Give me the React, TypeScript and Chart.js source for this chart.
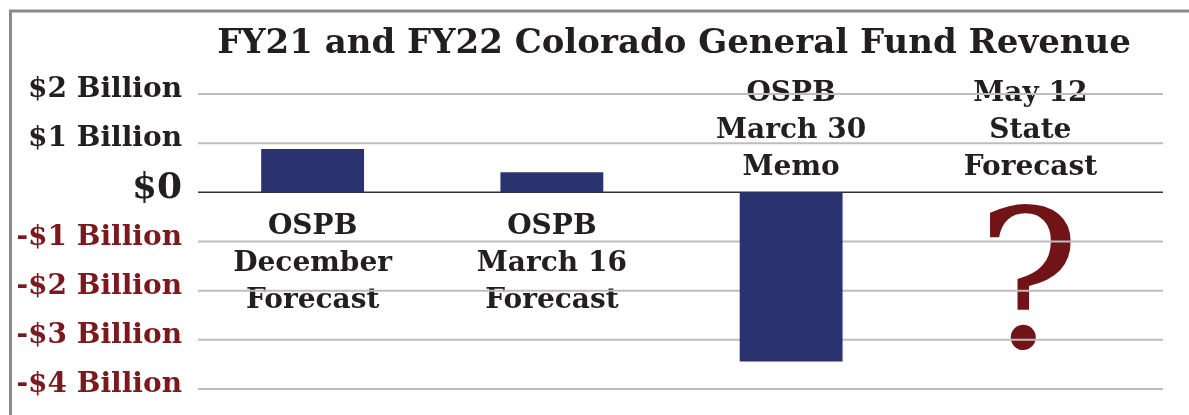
import React, { useEffect, useRef } from 'react';
import { Chart, registerables } from 'chart.js';

Chart.register(...registerables);

const chartTitle = 'FY21 and FY22 Colorado General Fund Revenue';
const categories = ['OSPB December Forecast', 'OSPB March 16 Forecast', 'OSPB March 30 Memo', 'May 12 State Forecast'];
const categoryLines = [
  ['OSPB', 'December', 'Forecast'],
  ['OSPB', 'March 16', 'Forecast'],
  ['OSPB', 'March 30', 'Memo'],
  ['May 12', 'State', 'Forecast'],
];
const revenueBillions: (number | null)[] = [0.88, 0.41, -3.44, null];
const tickValues = [-4, -3, -2, -1, 0, 1, 2];
const tickLabels = ['-$4 Billion', '-$3 Billion', '-$2 Billion', '-$1 Billion', '$0', '$1 Billion', '$2 Billion'];
const pendingMark = '?';

const FONT = '"DejaVu Serif", serif';
const DARK = '#231f20';
const RED = '#7a1a1f';
const BAR = '#2a336f';

const overlayPlugin = {
  id: 'overlay',
  beforeDraw(chart: any) {
    const ctx = chart.ctx;
    const xs = chart.scales.x;
    const ys = chart.scales.y;
    const area = chart.chartArea;
    const zero = ys.getPixelForValue(0);
    ctx.save();
    ctx.fillStyle = '#ffffff';
    ctx.fillRect(0, 0, chart.width, chart.height);

    // frame
    ctx.strokeStyle = '#8a8a8a';
    ctx.lineWidth = 3;
    ctx.beginPath();
    ctx.moveTo(10.5, chart.height);
    ctx.lineTo(10.5, 11);
    ctx.lineTo(chart.width, 11);
    ctx.stroke();

    // title
    ctx.fillStyle = DARK;
    ctx.textAlign = 'center';
    ctx.textBaseline = 'alphabetic';
    ctx.font = `bold 34px ${FONT}`;
    ctx.fillText(chartTitle, 674, 53);

    // category labels
    categoryLines.forEach((lines, i) => {
      const cx = xs.getPixelForValue(i);
      const v = revenueBillions[i];
      const below = v != null && v > 0;
      ctx.font = `bold 28px ${FONT}`;
      ctx.fillStyle = DARK;
      lines.forEach((t, j) => {
        const by = below ? zero + 42 + j * 37 : zero - 17 - (lines.length - 1 - j) * 37;
        ctx.fillText(t, cx, by);
      });
      if (v == null) {
        ctx.font = `192px ${FONT}`;
        ctx.fillStyle = '#701418';
        ctx.fillText(pendingMark, cx - 2, zero + 155);
      }
    });

    // grid lines
    const x0 = area.left + 5;
    const x1 = area.right + 13;
    tickValues.forEach((v) => {
      const py = ys.getPixelForValue(v);
      ctx.beginPath();
      if (v === 0) {
        ctx.strokeStyle = '#333333';
        ctx.lineWidth = 1.5;
      } else {
        ctx.strokeStyle = '#bdbdbd';
        ctx.lineWidth = 2;
      }
      ctx.moveTo(x0, py);
      ctx.lineTo(x1, py);
      ctx.stroke();
    });
    ctx.restore();
  },
};

export default function App() {
  const ref = useRef<HTMLCanvasElement>(null);
  useEffect(() => {
    if (!ref.current) return;
    const chart = new Chart(ref.current, {
      type: 'bar',
      data: {
        labels: categories,
        datasets: [
          {
            data: revenueBillions as any,
            backgroundColor: BAR,
            borderWidth: 0,
            barPercentage: 0.43,
            categoryPercentage: 1,
          },
        ],
      },
      options: {
        animation: false,
        responsive: true,
        maintainAspectRatio: false,
        layout: { padding: { top: 94, bottom: 26, left: 0, right: 39 } },
        plugins: {
          legend: { display: false },
          title: { display: false },
          tooltip: { enabled: false },
        },
        scales: {
          x: { display: false },
          y: {
            min: -4,
            max: 2,
            afterFit: (s: any) => {
              s.width = 193;
              s.paddingTop = 0;
              s.paddingBottom = 0;
            },
            border: { display: false },
            grid: { display: false, drawTicks: false },
            ticks: {
              stepSize: 1,
              padding: 11,
              labelOffset: -4,
              callback: (value: any) => {
                const idx = tickValues.indexOf(Number(value));
                return idx >= 0 ? tickLabels[idx] : '';
              },
              color: (c: any) => (c.tick && c.tick.value < 0 ? RED : DARK),
              font: (c: any) =>
                c.tick && c.tick.value === 0
                  ? { family: FONT, size: 36, weight: 'bold' }
                  : { family: FONT, size: 28, weight: 'bold' },
            },
          },
        },
      },
      plugins: [overlayPlugin],
    });
    return () => chart.destroy();
  }, []);
  return (
    <div style={{ position: 'absolute', left: 0, top: 0, width: 1189, height: 415 }}>
      <canvas ref={ref} />
    </div>
  );
}
